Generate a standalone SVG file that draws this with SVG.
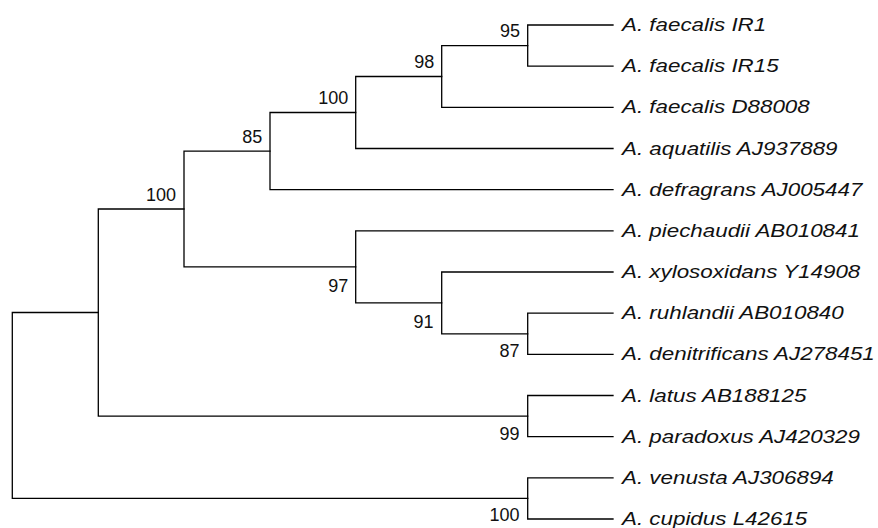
<svg xmlns="http://www.w3.org/2000/svg" width="878" height="528" viewBox="0 0 878 528">
<style>
.e{fill:none;stroke:#000;stroke-width:1.3;stroke-linecap:square}
.b{font-family:"Liberation Sans",Arial,sans-serif;font-size:18px;fill:#111;text-anchor:end}
.t{font-family:"Liberation Sans",Arial,sans-serif;font-size:18.5px;font-style:italic;fill:#111}
</style>
<rect width="878" height="528" fill="#fff"/>
<g id="connectors">
<path class="e" d="M12.3,405.5 V312.5 H98.3 M12.3,405.5 V498.4 H527.7"/>
<path class="e" d="M98.3,312.5 V209 H184 M98.3,312.5 V416.1 H527.7"/>
<path class="e" d="M184,209 V151.1 H270 M184,209 V266.9 H355.7"/>
<path class="e" d="M270,151.1 V112.5 H355.7 M270,151.1 V189.7 H613"/>
<path class="e" d="M355.7,112.5 V76.5 H441.7 M355.7,112.5 V148.5 H613"/>
<path class="e" d="M441.7,76.5 V45.6 H527.7 M441.7,76.5 V107.3 H613"/>
<path class="e" d="M527.7,45.6 V25 H613 M527.7,45.6 V66.2 H613"/>
<path class="e" d="M355.7,266.9 V230.8 H613 M355.7,266.9 V302.9 H441.7"/>
<path class="e" d="M441.7,302.9 V272 H613 M441.7,302.9 V333.8 H527.7"/>
<path class="e" d="M527.7,333.8 V313.2 H613 M527.7,333.8 V354.3 H613"/>
<path class="e" d="M527.7,416.1 V395.5 H613 M527.7,416.1 V436.7 H613"/>
<path class="e" d="M527.7,498.4 V477.8 H613 M527.7,498.4 V519 H613"/>
</g>
<g id="bootstrap">
<text class="b" x="520" y="37.3">95</text>
<text class="b" x="434.2" y="68.2">98</text>
<text class="b" x="348.2" y="103.6">100</text>
<text class="b" x="262.3" y="143.2">85</text>
<text class="b" x="176" y="201">100</text>
<text class="b" x="348.3" y="291.7">97</text>
<text class="b" x="433.5" y="327.7">91</text>
<text class="b" x="519.5" y="357.4">87</text>
<text class="b" x="519.5" y="440.2">99</text>
<text class="b" x="519.5" y="520.8">100</text>
</g>
<g id="leaf-IR1"><text class="t" transform="translate(622,31) scale(1.21,1)">A. faecalis IR1</text></g>
<g id="leaf-IR15"><text class="t" transform="translate(622,72.2) scale(1.21,1)">A. faecalis IR15</text></g>
<g id="leaf-D88008"><text class="t" transform="translate(622,113.3) scale(1.21,1)">A. faecalis D88008</text></g>
<g id="leaf-AJ937889"><text class="t" transform="translate(622,154.5) scale(1.21,1)">A. aquatilis AJ937889</text></g>
<g id="leaf-AJ005447"><text class="t" transform="translate(622,195.7) scale(1.21,1)">A. defragrans AJ005447</text></g>
<g id="leaf-AB010841"><text class="t" transform="translate(622,236.8) scale(1.21,1)">A. piechaudii AB010841</text></g>
<g id="leaf-Y14908"><text class="t" transform="translate(622,278) scale(1.21,1)">A. xylosoxidans Y14908</text></g>
<g id="leaf-AB010840"><text class="t" transform="translate(622,319.2) scale(1.21,1)">A. ruhlandii AB010840</text></g>
<g id="leaf-AJ278451"><text class="t" transform="translate(622,360.3) scale(1.21,1)">A. denitrificans AJ278451</text></g>
<g id="leaf-AB188125"><text class="t" transform="translate(622,401.5) scale(1.21,1)">A. latus AB188125</text></g>
<g id="leaf-AJ420329"><text class="t" transform="translate(622,442.7) scale(1.21,1)">A. paradoxus AJ420329</text></g>
<g id="leaf-AJ306894"><text class="t" transform="translate(622,483.8) scale(1.21,1)">A. venusta AJ306894</text></g>
<g id="leaf-L42615"><text class="t" transform="translate(622,525) scale(1.21,1)">A. cupidus L42615</text></g>
</svg>
